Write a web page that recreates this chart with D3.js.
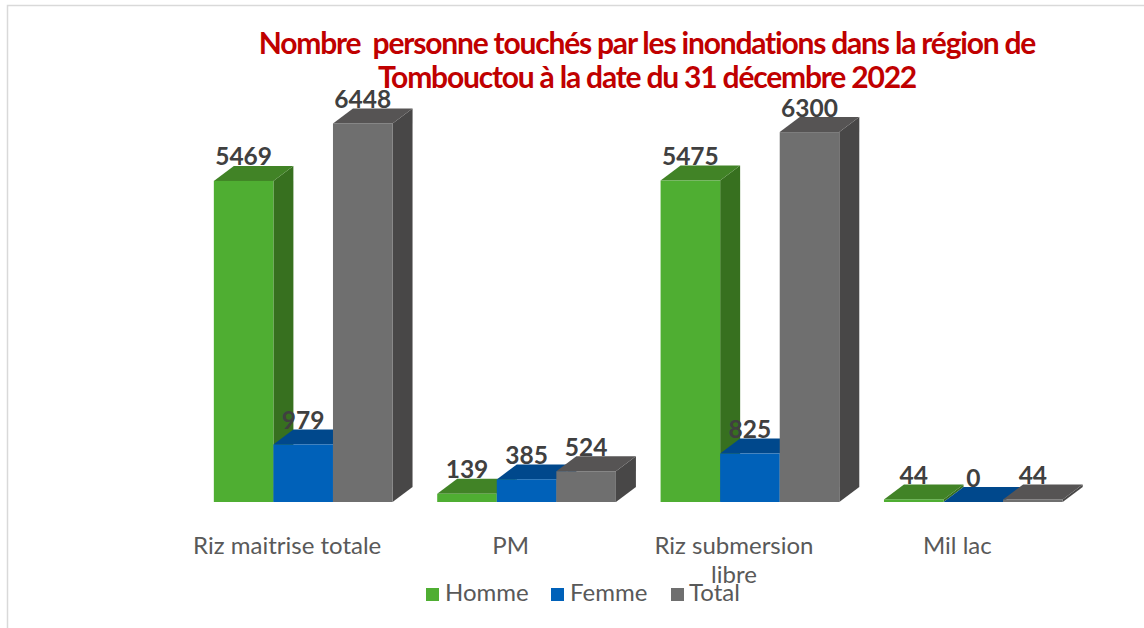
<!DOCTYPE html>
<html>
<head>
<meta charset="utf-8">
<script src="https://cdn.jsdelivr.net/npm/d3@7"></script>
<style>
  body { margin: 0; background: #fff; }
  svg { display: block; }
  text { font-family: Lato, "Open Sans", sans-serif; }
</style>
</head>
<body>
<script>
const categories = ["Riz maitrise totale", "PM", "Riz submersion libre", "Mil lac"]
const seriesNames = ["Homme", "Femme", "Total"]
const homme = [5469, 139, 5475, 44]
const femme = [979, 385, 825, 0]
const total = [6448, 524, 6300, 44]
const titleLines = ["Nombre  personne touchés par les inondations dans la région de", "Tombouctou à la date du 31 décembre 2022"]

const width = 1144
const height = 628
const depth = {x: 20, y: 15}

const colors = {
  Homme: {front: "#4fae32", top: "#418326", side: "#37701f"},
  Femme: {front: "#0061b9", top: "#00488c", side: "#003f7a"},
  Total: {front: "#6f6f6f", top: "#565454", side: "#484747"}
}

const values = [homme, femme, total]
const series = seriesNames.map((name, i) => ({
  name,
  bars: categories.map((cat, j) => ({cat, name, value: values[i][j]}))
}))

const x0 = d3.scaleBand()
    .domain(categories)
    .range([191.5, 1085])
    .paddingInner(0.2)
    .paddingOuter(0.1)
const x1 = d3.scaleBand()
    .domain(seriesNames)
    .range([0, x0.bandwidth()])
const y = d3.scaleLinear()
    .domain([0, 7000])
    .range([502, 91])

const svg = d3.select("body").append("svg")
    .attr("viewBox", [0, 0, width, height])
    .attr("width", width)
    .attr("height", height)

// frame, only top and left show in the picture
svg.append("path")
    .attr("d", `M7.5,${height}V5.5H${width}`)
    .attr("fill", "none")
    .attr("stroke", "#d9d9d9")
    .attr("stroke-width", 1.5)

const title = svg.append("text")
    .attr("text-anchor", "middle")
    .attr("fill", "#c00000")
    .attr("font-weight", 700)
    .attr("font-size", 30)
    .attr("letter-spacing", -1.2)
    .style("white-space", "pre")
title.selectAll("tspan")
  .data(titleLines)
  .join("tspan")
    .attr("x", 647)
    .attr("y", (d, i) => 54 + i * 33.5)
    .text(d => d)

const barX = d => x0(d.cat) + x1(d.name)

// 3d bars, painted series by series so the next one covers the side of the last
const bar = svg.append("g")
  .selectAll("g")
  .data(series.flatMap(s => s.bars))
  .join("g")

bar.append("path")
    .attr("fill", d => colors[d.name].side)
    .attr("d", d => {
      const r = barX(d) + x1.bandwidth()
      return `M${r},${y(d.value)}l${depth.x},${-depth.y}V${y(0) - depth.y}L${r},${y(0)}Z`
    })
bar.append("path")
    .attr("fill", d => colors[d.name].top)
    .attr("d", d => `M${barX(d)},${y(d.value)}l${depth.x},${-depth.y}h${x1.bandwidth()}l${-depth.x},${depth.y}Z`)
bar.append("rect")
    .attr("fill", d => colors[d.name].front)
    .attr("x", barX)
    .attr("y", d => y(d.value))
    .attr("width", x1.bandwidth())
    .attr("height", d => y(0) - y(d.value))

svg.append("g")
  .selectAll("text")
  .data(series.flatMap(s => s.bars))
  .join("text")
    .attr("x", d => barX(d) + x1.bandwidth() / 2)
    .attr("y", d => y(d.value) - 15.5)
    .attr("text-anchor", "middle")
    .attr("font-size", 24.5)
    .attr("font-weight", 700)
    .attr("fill", "#404040")
    .text(d => d.value)

// category axis, labels sit left of the band centre like the original
const xAxis = g => g
    .attr("transform", `translate(-16,${y(0)})`)
    .call(d3.axisBottom(x0).tickSize(0))
    .call(g => g.select(".domain").remove())
    .call(g => g.selectAll(".tick text")
        .attr("font-family", null)
        .attr("font-size", 24)
        .attr("fill", "#595959")
        .attr("y", 52)
        .attr("dy", null)
        .each(function (d) {
          if (d !== "Riz submersion libre") return
          const t = d3.select(this).text(null)
          t.append("tspan").attr("x", 0).attr("y", 52).text("Riz submersion")
          t.append("tspan").attr("x", 0).attr("y", 81).text("libre")
        }))
svg.append("g").call(xAxis).attr("font-family", null)

// legend
const legendX = [426, 551, 671]
const legendText = [19, 19, 18]
const legend = svg.append("g")
  .selectAll("g")
  .data(seriesNames)
  .join("g")
    .attr("transform", (d, i) => `translate(${legendX[i]},588)`)
legend.append("rect")
    .attr("width", 13)
    .attr("height", 13)
    .attr("fill", d => colors[d].front)
legend.append("text")
    .attr("x", (d, i) => legendText[i])
    .attr("y", 13)
    .attr("font-size", 24)
    .attr("fill", "#595959")
    .text(d => d)
</script>
</body>
</html>
